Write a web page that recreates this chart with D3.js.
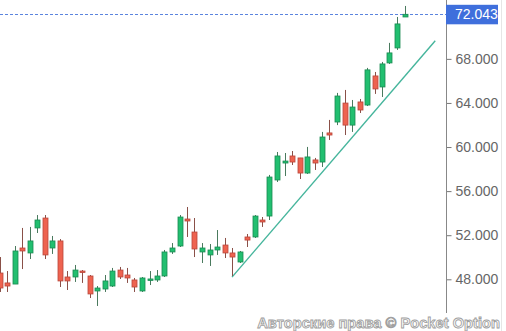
<!DOCTYPE html>
<html>
<head>
<meta charset="utf-8">
<script src="https://cdn.jsdelivr.net/npm/d3@7"></script>
<style>
html,body{margin:0;padding:0;background:#fff;}
svg{display:block;}
</style>
</head>
<body>
<svg id="chart" width="506" height="331"></svg>
<script>
const opens  = [48.57,47.67,47.57,50.84,50.39,52.66,53.56,50.84,51.48,48.21,48.21,48.75,48.30,46.94,47.12,47.39,48.84,48.39,47.94,46.94,47.94,47.94,48.30,50.48,51.02,53.47,52.29,50.48,50.21,50.66,51.11,50.39,49.57,51.84,51.84,53.38,53.74,57.01,58.55,59.19,59.01,57.64,58.83,58.64,61.28,62.27,63.99,61.99,64.09,63.81,66.45,65.45,67.63,68.99,71.80];
const closes = [47.21,47.39,50.57,50.57,51.48,53.38,50.21,51.48,47.85,47.85,48.84,48.66,46.67,47.21,47.85,48.75,48.21,48.12,47.30,48.12,48.03,48.30,50.48,50.84,53.65,53.29,50.75,50.84,50.66,50.93,50.39,50.02,50.48,51.56,53.74,53.20,57.28,59.19,58.73,58.64,57.64,59.10,58.55,60.91,61.09,64.63,61.99,63.63,63.36,67.00,65.27,67.54,68.54,71.17,72.043];
const highs  = [50.02,48.75,51.02,52.66,52.75,53.83,53.83,51.93,51.65,48.75,49.30,48.84,48.39,47.39,48.39,49.03,49.12,49.03,48.12,48.21,48.75,48.84,50.66,51.29,53.83,54.56,53.56,51.29,51.20,52.47,51.75,50.84,50.57,52.11,53.83,53.65,57.47,59.55,59.46,59.64,59.01,60.01,59.01,61.37,62.46,64.91,65.18,64.27,64.36,67.18,66.81,67.72,69.45,71.80,72.80];
const lows   = [46.85,46.85,47.57,48.93,49.84,52.20,49.84,50.30,47.30,47.03,47.76,47.67,46.30,45.58,46.85,47.30,48.03,47.67,46.85,46.85,47.48,47.76,48.21,50.30,50.93,51.84,50.02,49.48,49.21,50.21,49.93,48.30,49.48,50.93,51.75,52.75,53.38,56.83,57.37,58.37,57.10,57.56,57.92,58.19,60.64,61.99,61.09,61.37,63.09,63.72,64.82,64.54,67.54,68.81,71.80];
const tickValues = [48, 52, 56, 60, 64, 68];
const lastPrice = 72.043;
const trendIdx = [31, 58.1];
const trendPrice = [48.2, 69.65];
const watermark = "Авторские права © Pocket Option";

const svg = d3.select("#chart");
const x = d3.scaleLinear().domain([0, 54]).range([-0.5, 404.5]);
const y = d3.scaleLinear().domain([48, lastPrice]).range([279.3, 14.3]);
const axisX = 446.5;

const candles = opens.map((o, i) => ({i, o, c: closes[i], h: highs[i], l: lows[i]}));
const up = d => d.c >= d.o;

// right faint border
svg.append("line").attr("x1", 501.5).attr("x2", 501.5).attr("y1", 0).attr("y2", 331)
  .attr("stroke", "#e6e6e6").attr("stroke-width", 1);

// current price dashed line
svg.append("line")
  .attr("x1", 0).attr("x2", axisX)
  .attr("y1", Math.round(y(lastPrice)) + 0.5).attr("y2", Math.round(y(lastPrice)) + 0.5)
  .attr("stroke", "#5b84de").attr("stroke-width", 1).attr("stroke-dasharray", "3,2");

// trend line
svg.append("line")
  .attr("x1", x(trendIdx[0])).attr("y1", y(trendPrice[0]))
  .attr("x2", x(trendIdx[1])).attr("y2", y(trendPrice[1]))
  .attr("stroke", "#45b59c").attr("stroke-width", 1.4);

const g = svg.append("g");
const bw = 5;
g.selectAll("line.wick").data(candles).join("line")
  .attr("class", "wick")
  .attr("x1", d => Math.round(x(d.i)) + 0.5).attr("x2", d => Math.round(x(d.i)) + 0.5)
  .attr("y1", d => y(d.h)).attr("y2", d => y(d.l))
  .attr("stroke", d => up(d) ? "#4a7a5e" : "#8a5048").attr("stroke-width", 1);

g.selectAll("rect.body").data(candles).join("rect")
  .attr("class", "body")
  .attr("x", d => Math.round(x(d.i)) - 2)
  .attr("width", bw)
  .attr("y", d => y(Math.max(d.o, d.c)))
  .attr("height", d => Math.max(1.5, Math.abs(y(d.o) - y(d.c))))
  .attr("fill", d => up(d) ? "#22bf70" : "#ee6350")
  .attr("stroke", d => up(d) ? "#1a8a52" : "#b8463a").attr("stroke-width", 0.8);

// axis
const axis = d3.axisRight(y).tickValues(tickValues).tickFormat(d3.format(".3f")).tickSize(5).tickPadding(4);
const ag = svg.append("g").attr("transform", `translate(${axisX},0)`).call(axis);
ag.select(".domain").remove();
ag.selectAll(".tick line").attr("stroke", "#777");
ag.selectAll(".tick text").attr("fill", "#666").style("font-family", "Liberation Sans, Arial, sans-serif").style("font-size", "14px");
svg.append("line").attr("x1", axisX).attr("x2", axisX).attr("y1", 0).attr("y2", 313)
  .attr("stroke", "#888").attr("stroke-width", 1);

// price label
const py = y(lastPrice);
svg.append("rect").attr("x", 446).attr("y", py - 9.5).attr("width", 52).attr("height", 19.5).attr("fill", "#3f6fdc");
svg.append("text").attr("x", 455).attr("y", py + 5).text(d3.format(".3f")(lastPrice))
  .attr("fill", "#fff").style("font-family", "Liberation Sans, Arial, sans-serif").style("font-size", "14px");

// watermark
svg.append("text").attr("x", 500).attr("y", 328).attr("text-anchor", "end").text(watermark)
  .attr("fill", "#fff").attr("stroke", "#a0a0a0").attr("stroke-width", 0.9)
  .style("font-family", "Liberation Sans, Arial, sans-serif").style("font-size", "14.7px").style("font-weight", "bold");
</script>
</body>
</html>
